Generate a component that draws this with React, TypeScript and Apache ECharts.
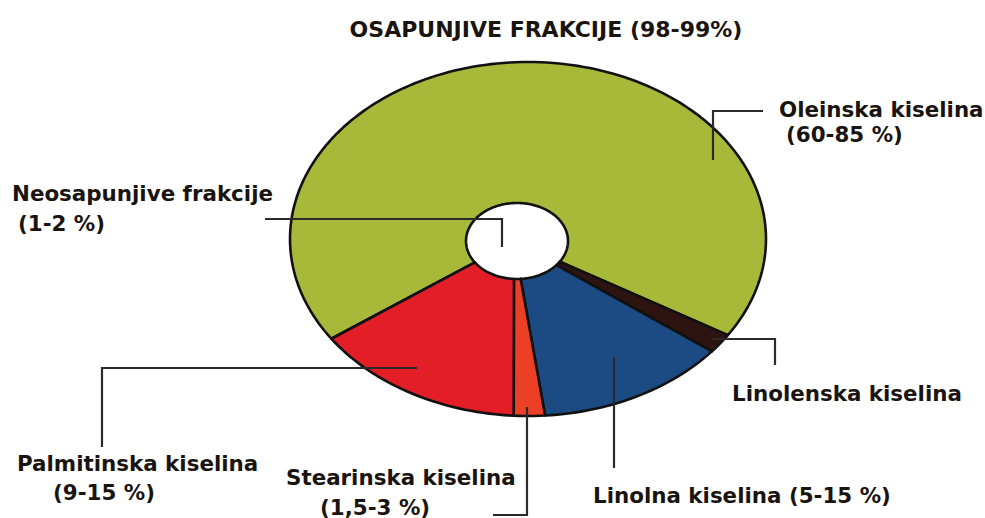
import React, { useEffect, useRef } from "react";
import * as echarts from "echarts";

const titleText = "OSAPUNJIVE FRAKCIJE (98-99%)";
const sliceNames = ["Oleinska kiselina", "Linolenska kiselina", "Linolna kiselina", "Stearinska kiselina", "Palmitinska kiselina"];
const sliceValues = [68.6, 1.8, 12.9, 2.1, 14.5];
const sliceColors = ["#A8B93A", "#2D1410", "#1B4B82", "#EC4026", "#E41E26"];
const holeName = "Neosapunjive frakcije";
const holeRange = "(1-2 %)";

const START_DEG = 145.7;
const OUTER = { cx: 528, cy: 239, rx: 238, ry: 177 };
const INNER = { cx: 517, cy: 241, rx: 51, ry: 38 };

const FONT = "bold 21.4px 'DejaVu Sans', sans-serif";
const LINE = { stroke: "#2a2a2a", lineWidth: 2.2, fill: null as any };

export default function App() {
  const ref = useRef<HTMLDivElement>(null);
  useEffect(() => {
    if (!ref.current) return;
    const chart = echarts.init(ref.current, null, { renderer: "svg" });
    const total = sliceValues.reduce((a, b) => a + b, 0);
    const text = (x: number, y: number, t: string, align = "left") => ({
      type: "text",
      x,
      y,
      style: { text: t, font: FONT, fill: "#1a1410", textAlign: align, textVerticalAlign: "middle" },
    });
    const line = (pts: number[][]) => ({ type: "polyline", shape: { points: pts }, style: LINE, z: 10 });
    chart.setOption({
      animation: false,
      backgroundColor: "#ffffff",
      title: {
        text: titleText,
        left: 541,
        top: 13,
        textAlign: "center",
        textStyle: { fontFamily: "'DejaVu Sans', sans-serif", fontWeight: "bold", fontSize: 22, color: "#1a1410" },
      },
      series: [
        {
          type: "custom",
          coordinateSystem: "none",
          data: sliceValues.map((v, i) => ({ name: sliceNames[i], value: v })),
          renderItem: (params: any, api: any) => {
            const i = params.dataIndex;
            let before = 0;
            for (let j = 0; j < i; j++) before += sliceValues[j];
            const a0 = (START_DEG * Math.PI) / 180 + (before / total) * Math.PI * 2;
            const a1 = a0 + (api.value(0) / total) * Math.PI * 2;
            const n = Math.max(6, Math.ceil((a1 - a0) / (Math.PI / 120)));
            const pts: number[][] = [];
            for (let k = 0; k <= n; k++) {
              const a = a0 + ((a1 - a0) * k) / n;
              pts.push([OUTER.cx + OUTER.rx * Math.cos(a), OUTER.cy + OUTER.ry * Math.sin(a)]);
            }
            for (let k = n; k >= 0; k--) {
              const a = a0 + ((a1 - a0) * k) / n;
              pts.push([INNER.cx + INNER.rx * Math.cos(a), INNER.cy + INNER.ry * Math.sin(a)]);
            }
            return {
              type: "polygon",
              shape: { points: pts },
              style: { fill: sliceColors[i], stroke: "#111111", lineWidth: 2.6, lineJoin: "round" },
            };
          },
        },
      ],
      graphic: [
        line([[713, 160], [713, 111], [763, 111]]),
        text(779, 109, sliceNames[0]),
        text(786, 134, "(60-85 %)"),
        line([[265, 219], [502, 219], [502, 247]]),
        text(12, 193, holeName),
        text(18, 223, holeRange),
        line([[712, 339], [775, 339], [775, 365]]),
        text(732, 393, sliceNames[1]),
        line([[614, 357], [614, 468]]),
        text(593, 495, sliceNames[2] + " (5-15 %)"),
        line([[527, 407], [527, 515], [493, 515]]),
        text(286, 477, sliceNames[3]),
        text(320, 507, "(1,5-3 %)"),
        line([[417, 368], [102, 368], [102, 447]]),
        text(17, 463, sliceNames[4]),
        text(53, 492, "(9-15 %)"),
      ],
    });
    return () => chart.dispose();
  }, []);
  return <div ref={ref} style={{ position: "fixed", left: 0, top: 0, width: 985, height: 518 }} />;
}
